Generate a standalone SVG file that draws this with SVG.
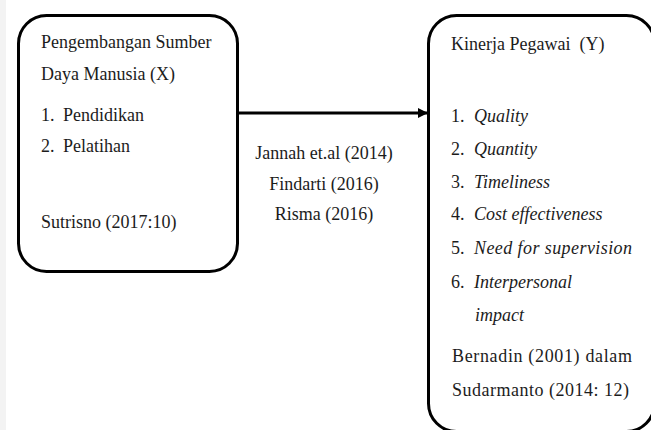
<svg xmlns="http://www.w3.org/2000/svg" width="651" height="430" viewBox="0 0 651 430">
<style>
.box{fill:#fff;stroke:#000;stroke-width:3}
text{font-family:"Liberation Serif","DejaVu Serif",serif;font-size:18px;fill:#1c1c1c;white-space:pre}
.i{font-style:italic}
</style>
<defs>
<marker id="ah" markerWidth="10" markerHeight="10" refX="9" refY="5" orient="auto" markerUnits="userSpaceOnUse">
<path d="M0,0 L10,5 L0,10 Z" fill="#000"/>
</marker>
</defs>
<rect x="0" y="0" width="651" height="430" fill="#fff"/>
<rect x="0" y="0" width="6" height="430" fill="#f3f3f3"/>
<g id="connectors">
<line x1="238" y1="113" x2="427" y2="113" stroke="#000" stroke-width="3" marker-end="url(#ah)"/>
</g>
<g id="node-x">
<rect class="box" x="18.5" y="15.5" width="219" height="256" rx="28"/>
<text x="41" y="48">Pengembangan Sumber</text>
<text x="41" y="80">Daya Manusia (X)</text>
<text x="41" y="121">1.</text><text x="63" y="121">Pendidikan</text>
<text x="41" y="152">2.</text><text x="63" y="152">Pelatihan</text>
<text x="41" y="228">Sutrisno (2017:10)</text>
</g>
<g id="refs">
<text x="324" y="159" text-anchor="middle">Jannah et.al (2014)</text>
<text x="324" y="190" text-anchor="middle">Findarti (2016)</text>
<text x="324" y="220" text-anchor="middle">Risma (2016)</text>
</g>
<g id="node-y">
<rect class="box" x="428.5" y="15.5" width="226" height="416" rx="28"/>
<text x="451" y="50" xml:space="preserve">Kinerja Pegawai  (Y)</text>
<text x="451" y="122">1.</text><text x="474" y="122" class="i">Quality</text>
<text x="451" y="155">2.</text><text x="474" y="155" class="i">Quantity</text>
<text x="451" y="188">3.</text><text x="474" y="188" class="i">Timeliness</text>
<text x="451" y="220">4.</text><text x="474" y="220" class="i">Cost effectiveness</text>
<text x="451" y="254">5.</text><text x="474" y="254" class="i" textLength="158" lengthAdjust="spacing">Need for supervision</text>
<text x="451" y="288">6.</text><text x="474" y="288" class="i">Interpersonal</text>
<text x="475" y="321" class="i">impact</text>
<text x="452" y="362" textLength="180" lengthAdjust="spacing">Bernadin (2001) dalam</text>
<text x="452" y="396" textLength="177" lengthAdjust="spacing">Sudarmanto (2014: 12)</text>
</g>
</svg>
